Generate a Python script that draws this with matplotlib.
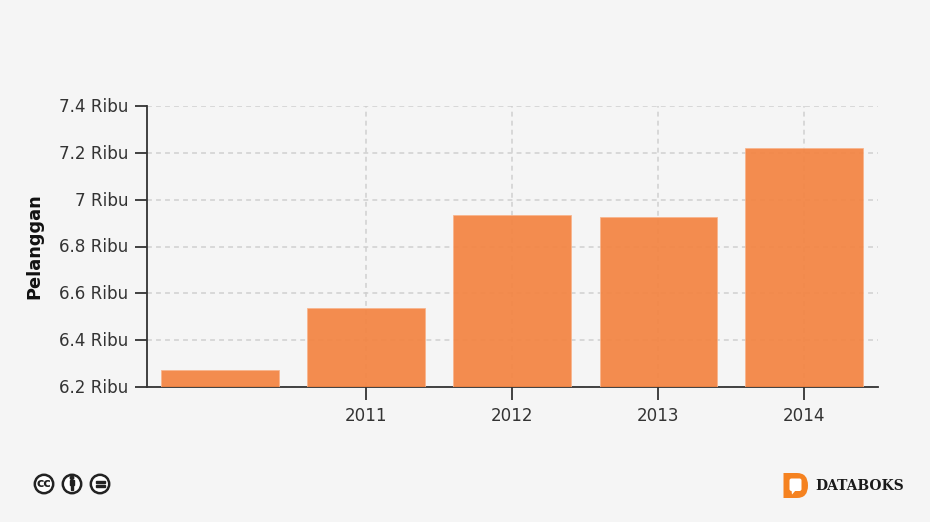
import datetime as dt
import matplotlib
matplotlib.use("Agg")
import matplotlib.pyplot as plt
import matplotlib.dates as mdates
from matplotlib.patches import Circle, FancyBboxPatch, Polygon, Rectangle, PathPatch
from matplotlib.path import Path
from matplotlib.transforms import ScaledTranslation

years = [2010, 2011, 2012, 2013, 2014]
values = [6.272, 6.536, 6.934, 6.927, 7.222]
tick_years = [2011, 2012, 2013, 2014]
y_ticks = [6.2, 6.4, 6.6, 6.8, 7.0, 7.2, 7.4]
y_labels = ["6.2 Ribu", "6.4 Ribu", "6.6 Ribu", "6.8 Ribu", "7 Ribu", "7.2 Ribu", "7.4 Ribu"]
y_title = "Pelanggan"
brand = "DATABOKS"

BG = "#f5f5f5"
W, H = 930, 522
fig = plt.figure(figsize=(W / 100, H / 100), dpi=100, facecolor=BG)
L, R, T, B = 147, 878, 106, 387
ax = fig.add_axes([L / W, 1 - B / H, (R - L) / W, (B - T) / H], facecolor=BG)

def d(y):
    return mdates.date2num(dt.date(y, 1, 1))

px_per_day = 146 / 365.25
xs = [d(y) for y in years]
x0 = d(2011) - (366.1 - L) / px_per_day
ax.set_xlim(x0, x0 + (R - L) / px_per_day)
ax.set_ylim(6.2, 7.4)

ax.bar(xs, values, width=117.5 / px_per_day, color="#f38442", alpha=0.93, zorder=3,
       edgecolor="#f8b48c", linewidth=0.6)

ax.grid(True, color="#d0d0d0", linewidth=1.1, dashes=(3.2, 2.7), zorder=1)
ax.set_axisbelow(True)

ax.set_xticks([d(y) for y in tick_years])
ax.set_xticklabels([str(y) for y in tick_years])
ax.set_yticks(y_ticks)
ax.set_yticklabels(y_labels)
ax.tick_params(axis="both", length=9, width=1.3, color="#333333",
               labelcolor="#333333", labelsize=12.1)
ax.tick_params(axis="y", pad=4.5)
ax.tick_params(axis="x", pad=5.3)
shift = ScaledTranslation(0, 1.0 / 100, fig.dpi_scale_trans)
for lab in ax.get_yticklabels():
    lab.set_transform(lab.get_transform() + shift)
for s in ("top", "right"):
    ax.spines[s].set_visible(False)
for s in ("left", "bottom"):
    ax.spines[s].set_color("#333333")
    ax.spines[s].set_linewidth(1.3)

fig.text(34 / W, 1 - 246 / H, y_title, rotation=90, ha="center", va="center",
         fontsize=12.8, fontweight="bold", color="#111111")

# Overlay in pixel coordinates for footer marks
ov = fig.add_axes([0, 0, 1, 1], facecolor="none")
ov.set_xlim(0, W)
ov.set_ylim(H, 0)
ov.axis("off")

ink = "#222222"
for cx in (44, 72, 100):
    ov.add_patch(Circle((cx, 484), 9.2, facecolor="white", edgecolor=ink, linewidth=1.8))
ov.text(44, 483.6, "cc", ha="center", va="center", fontsize=9, fontweight="bold", color=ink)
ov.add_patch(Circle((72, 477.8), 1.7, color=ink))
ov.add_patch(Rectangle((69.6, 480.2), 4.8, 5.2, color=ink))
ov.add_patch(Rectangle((70.7, 485), 2.6, 5.4, color=ink))
ov.add_patch(Rectangle((95.5, 480.6), 9, 2.2, color=ink))
ov.add_patch(Rectangle((95.5, 485.2), 9, 2.2, color=ink))

# Brand mark
orange = "#f58220"
outer = Path(
    [(783.5, 473), (797, 473), (808, 473), (808, 485.5), (808, 498), (797, 498),
     (783.5, 498), (783.5, 473)],
    [Path.MOVETO, Path.LINETO, Path.CURVE3, Path.CURVE3, Path.CURVE3, Path.CURVE3,
     Path.LINETO, Path.CLOSEPOLY])
ov.add_patch(PathPatch(outer, facecolor=orange, edgecolor="none"))
ov.add_patch(FancyBboxPatch((789.5, 478.5), 12, 12.5, boxstyle="round,pad=0,rounding_size=2",
                            facecolor="white", edgecolor="none"))
ov.add_patch(Polygon([(791.5, 490), (796, 490), (792, 494.5)], facecolor="white", edgecolor="none"))
ov.text(815, 486, brand, ha="left", va="center", fontsize=10, fontweight="bold",
        family="DejaVu Serif", color="#1a1a1a")

fig.savefig("out.png", dpi=100, facecolor=BG)
